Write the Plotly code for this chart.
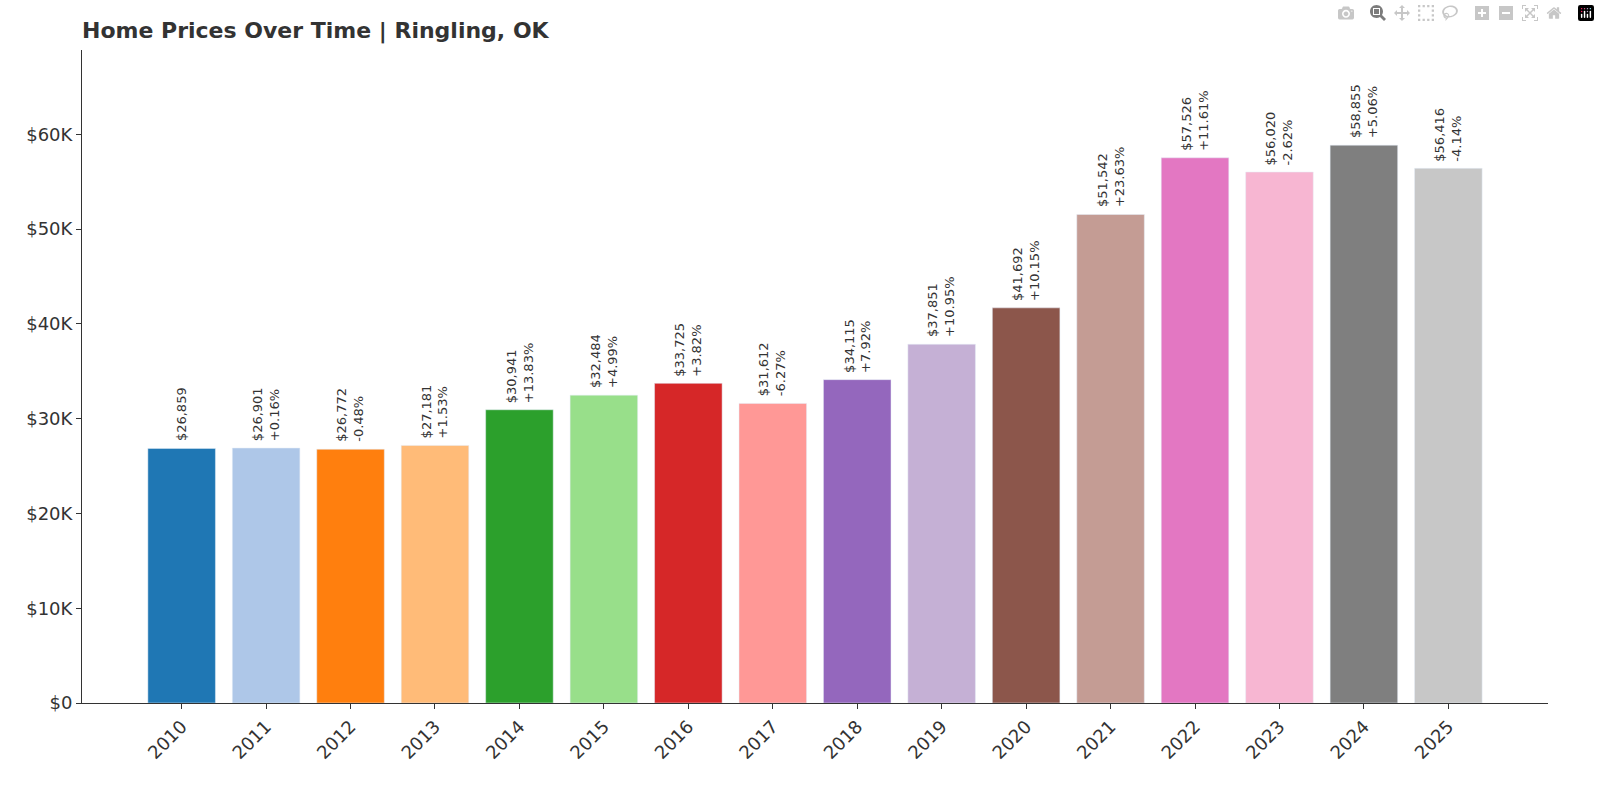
import plotly.graph_objects as go

years = [str(y) for y in range(2010, 2026)]
values = [26859, 26901, 26772, 27181, 30941, 32484, 33725, 31612, 34115, 37851, 41692, 51542, 57526, 56020, 58855, 56416]
changes = [None, "+0.16%", "-0.48%", "+1.53%", "+13.83%", "+4.99%", "+3.82%", "-6.27%", "+7.92%", "+10.95%", "+10.15%", "+23.63%", "+11.61%", "-2.62%", "+5.06%", "-4.14%"]
colors = ["#1f77b4", "#aec7e8", "#ff7f0e", "#ffbb78", "#2ca02c", "#98df8a", "#d62728", "#ff9896",
          "#9467bd", "#c5b0d5", "#8c564b", "#c49c94", "#e377c2", "#f7b6d2", "#7f7f7f", "#c7c7c7"]
yticks = [0, 10000, 20000, 30000, 40000, 50000, 60000]
yticklabels = ["$0", "$10K", "$20K", "$30K", "$40K", "$50K", "$60K"]

xs = list(range(len(years)))
fig = go.Figure(go.Bar(x=xs, y=values, marker_color=colors, width=0.8))

for i, (v, c) in enumerate(zip(values, changes)):
    txt = f"${v:,}" if c is None else f"${v:,}<br>{c}"
    fig.add_annotation(x=i, y=v, text=txt, textangle=-90, showarrow=False,
                       xanchor="center", yanchor="bottom", yshift=5,
                       font=dict(size=13, color="#333"), align="left")

fig.update_layout(
    width=1600, height=800,
    margin=dict(l=82, r=52, t=50, b=97, autoexpand=False),
    plot_bgcolor="white", paper_bgcolor="white",
    font=dict(family="DejaVu Sans", color="#333"),
    title=dict(text="<b>Home Prices Over Time | Ringling, OK</b>", x=82/1600, xanchor="left",
               y=0.962, yanchor="middle", font=dict(size=22, color="#333")),
    showlegend=False,
    xaxis=dict(range=[-1.18, 16.18], tickmode="array", tickvals=xs, ticktext=years,
               tickangle=-45, tickfont=dict(size=18), showline=True, linecolor="#333",
               ticks="outside", tickcolor="#333", showgrid=False, zeroline=False, automargin=False),
    yaxis=dict(range=[0, 68900], tickmode="array", tickvals=yticks, ticktext=yticklabels,
               tickfont=dict(size=18), showline=True, linecolor="#333",
               ticks="outside", tickcolor="#333", showgrid=False, zeroline=False, automargin=False),
)
fig.write_html("out.html")
with open("out.html") as f:
    html = f.read()
html = html.replace("<head>", "<head><style>html,body{margin:0;padding:0;overflow:hidden;}</style>", 1)
with open("out.html", "w") as f:
    f.write(html)
